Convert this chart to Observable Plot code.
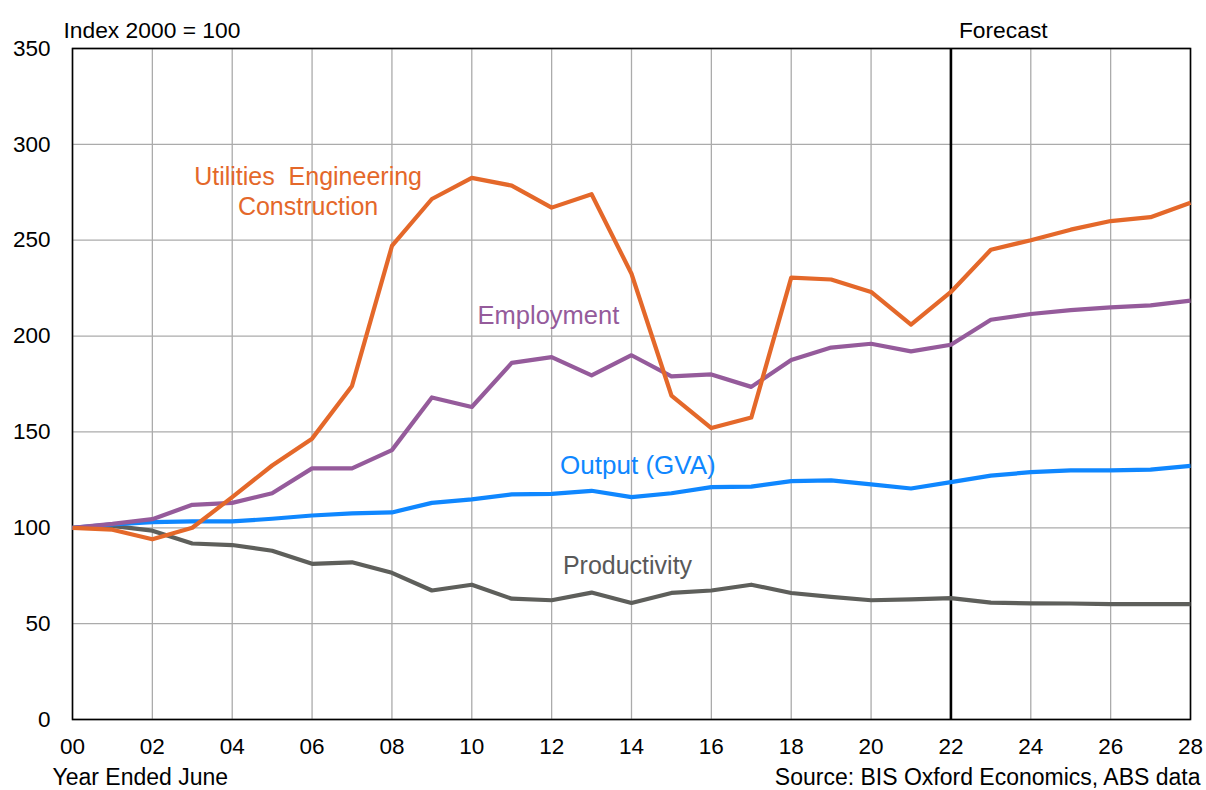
<!DOCTYPE html>
<html><head><meta charset="utf-8">
<script src="https://cdn.jsdelivr.net/npm/d3@7"></script>
<script src="https://cdn.jsdelivr.net/npm/@observablehq/plot@0.6"></script>
<style>
body{margin:0;background:#fff;}
#chart svg{display:block;}
</style>
</head><body><div id="chart"></div>
<script>
const years = [0,1,2,3,4,5,6,7,8,9,10,11,12,13,14,15,16,17,18,19,20,21,22,23,24,25,26,27,28];
const xTicks = [0,2,4,6,8,10,12,14,16,18,20,22,24,26,28];
const yTicks = [0,50,100,150,200,250,300,350];

const utilities = [100, 99, 94, 100, 116, 132.5, 146.5, 174, 247, 271.5, 282.5, 278.5, 267, 274, 232.5, 169, 152, 157.5, 230.5, 229.5, 223, 206, 223, 245, 250, 255.5, 260, 262, 269.5];
const employment = [100, 102, 104.5, 112, 113, 118, 131, 131, 140.5, 168, 163, 186, 189, 179.5, 190, 179, 180, 173.5, 187.5, 194, 196, 192, 195.5, 208.5, 211.5, 213.5, 215, 216, 218.5];
const output = [100, 101.8, 103, 103.3, 103.3, 104.7, 106.4, 107.5, 108, 113, 114.8, 117.4, 117.7, 119.3, 116, 118, 121.2, 121.5, 124.3, 124.7, 122.6, 120.5, 123.8, 127.2, 129, 129.9, 129.9, 130.3, 132.3];
const productivity = [100, 101, 98.5, 91.8, 91, 88, 81.2, 82, 76.5, 67.3, 70.3, 63, 62.2, 66.2, 60.8, 66, 67.3, 70.3, 66, 64, 62.2, 62.7, 63.3, 61, 60.6, 60.5, 60.2, 60.2, 60.2];

const seriesNames = ["Productivity", "Output (GVA)", "Employment", "Utilities Engineering Construction"];
const seriesColors = ["#5E5F5B", "#0F87FF", "#955B9B", "#E4682A"];
const seriesValues = [productivity, output, employment, utilities];
const forecastYear = 22;

const rows = [];
seriesNames.forEach((name, i) => {
  years.forEach((yr, j) => rows.push({series: name, year: yr, value: seriesValues[i][j]}));
});

const font = "'Liberation Sans', Arial, sans-serif";

const chart = Plot.plot({
  width: 1206,
  height: 790,
  marginTop: 48,
  marginLeft: 72,
  marginRight: 16,
  marginBottom: 71,
  style: {fontFamily: font, fontSize: "22px", color: "#000", background: "#fff", overflow: "visible"},
  x: {domain: [0, 28], ticks: xTicks, tickFormat: d => String(d).padStart(2, "0")},
  y: {domain: [0, 350], ticks: yTicks},
  color: {domain: seriesNames, range: seriesColors},
  marks: [
    Plot.gridX(xTicks, {stroke: "#ababab", strokeOpacity: 1, strokeWidth: 1.3}),
    Plot.gridY(yTicks, {stroke: "#ababab", strokeOpacity: 1, strokeWidth: 1.3}),
    Plot.axisX(xTicks, {tickSize: 0, tickPadding: 19, label: null, fontSize: 22.5, tickFormat: d => String(d).padStart(2, "0")}),
    Plot.axisY(yTicks, {tickSize: 0, tickPadding: 22, label: null, fontSize: 22.5}),
    Plot.ruleX([forecastYear], {stroke: "#000", strokeWidth: 2.6}),
    Plot.frame({stroke: "#000", strokeWidth: 1.6}),
    Plot.line(rows, {x: "year", y: "value", z: "series", stroke: "series", strokeWidth: 4.2, strokeLinejoin: "round", strokeLinecap: "butt"}),
    Plot.text(["Utilities\u00a0 Engineering\nConstruction"], {x: 5.9, y: 276, text: d => d, fill: seriesColors[3], fontSize: 25, lineHeight: 1.22}),
    Plot.text(["Employment"], {x: 11.92, y: 210.4, text: d => d, fill: seriesColors[2], fontSize: 25.5}),
    Plot.text(["Output (GVA)"], {x: 14.16, y: 132.5, text: d => d, fill: seriesColors[1], fontSize: 26}),
    Plot.text(["Productivity"], {x: 13.9, y: 80.3, text: d => d, fill: "#595959", fontSize: 25}),
    Plot.text(["Index 2000 = 100"], {frameAnchor: "top-left", text: d => d, textAnchor: "start", lineAnchor: "bottom", dx: -9, dy: -11, fill: "#000", fontSize: 22.8}),
    Plot.text(["Forecast"], {x: forecastYear, frameAnchor: "top", text: d => d, textAnchor: "start", lineAnchor: "bottom", dx: 8, dy: -11, fill: "#000", fontSize: 22.8}),
    Plot.text(["Year Ended June"], {frameAnchor: "bottom-left", text: d => d, textAnchor: "start", lineAnchor: "bottom", dx: -20, dy: 65, fill: "#000", fontSize: 23}),
    Plot.text(["Source: BIS Oxford Economics, ABS data"], {frameAnchor: "bottom-right", text: d => d, textAnchor: "end", lineAnchor: "bottom", dx: 10, dy: 65, fill: "#000", fontSize: 23})
  ]
});
document.getElementById("chart").appendChild(chart);
</script>
</body></html>
